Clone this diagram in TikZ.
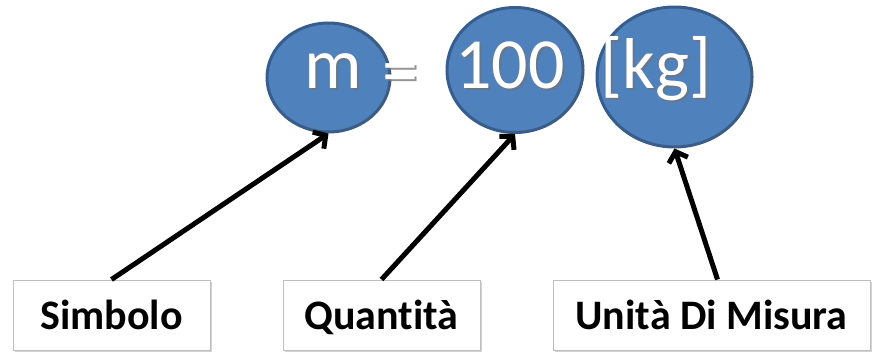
\documentclass[tikz,border=0pt]{standalone}
\usepackage{fontspec}
\setmainfont{Carlito}[Ligatures={NoCommon}]
\usetikzlibrary{arrows.meta,shapes.geometric,shadows}
\definecolor{Blob}{HTML}{4F81BD}
\definecolor{BlobEdge}{HTML}{385D8A}
\definecolor{BoxEdge}{HTML}{BFBFBF}
\tikzset{
  blob/.style={ellipse, draw=BlobEdge, line width=3pt, fill=Blob, inner sep=0pt},
  big/.style={text=white, font=\fontsize{72}{80}\selectfont, anchor=base, inner sep=0pt},
  bigshade/.style={big, text=black!55, opacity=0.75},
  tagbox/.style={draw=BoxEdge, fill=white, line width=1pt, minimum height=70pt,
                 inner sep=0pt, text height=29pt, text depth=1pt,
                 font=\bfseries\fontsize{42}{48}\selectfont,
                 drop shadow={shadow xshift=2pt, shadow yshift=-2pt, opacity=0.35}},
  arrow/.style={-{Straight Barb[length=9pt,width=20pt]}, line width=5pt, draw=black},
}
% white text with a soft shadow
\newcommand{\bigtext}[3]{%
  \node[bigshade] at ([shift={(2,2)}]#2) {#3};
  \node[big] (#1) at (#2) {#3};}
\begin{document}
\begin{tikzpicture}[x=1pt, y=-1pt]
  \useasboundingbox (0,0) rectangle (874,351);
  % blobs
  \node[blob, minimum width=123pt, minimum height=109pt] (e1) at (328.5,77.5) {};
  \node[blob, minimum width=136pt, minimum height=125pt] (e2) at (515,70) {};
  \node[blob, minimum width=155pt, minimum height=140pt] (e3) at (674.5,77) {};
  % formula
  \bigtext{m}{333,88}{m}
  \bigtext{eq}{400,94}{=}
  \bigtext{val}{510,88}{100}
  \bigtext{unit}{656,88}{[kg]}
  % labels
  \node[tagbox, minimum width=197pt] (sym) at (111.5,315) {Simbolo};
  \node[tagbox, minimum width=197pt] (qty) at (381.5,315) {Quantità};
  \node[tagbox, minimum width=317pt] (um) at (711.5,315) {Unità Di Misura};
  \draw[arrow] (sym.north) -- (e1.south);
  \draw[arrow] (qty.north) -- (e2.south);
  \draw[arrow] ([xshift=6pt]um.north) -- (e3.south);
\end{tikzpicture}
\end{document}
